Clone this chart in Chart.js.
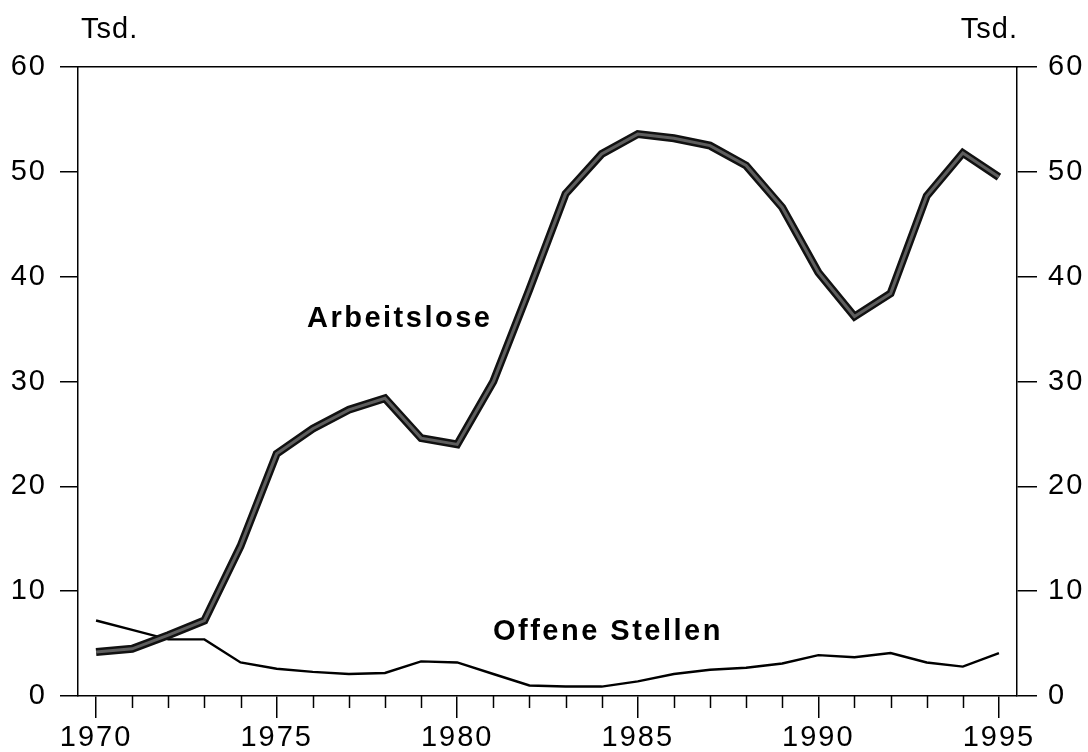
<!DOCTYPE html>
<html>
<head>
<meta charset="utf-8">
<script src="https://cdn.jsdelivr.net/npm/chart.js@4"></script>
<style>
html,body{margin:0;padding:0;background:#fff;}
#wrap{width:1088px;height:752px;position:relative;}
</style>
</head>
<body>
<div id="wrap"><canvas id="c" width="1088" height="752"></canvas></div>
<script>
const years = [1970,1971,1972,1973,1974,1975,1976,1977,1978,1979,1980,1981,1982,1983,1984,1985,1986,1987,1988,1989,1990,1991,1992,1993,1994,1995];
const arbeitslose = [4.2,4.5,5.8,7.2,14.3,23.1,25.5,27.3,28.4,24.6,24.0,30.0,38.8,47.9,51.7,53.6,53.2,52.5,50.6,46.6,40.4,36.2,38.4,47.7,51.8,49.5];
const offeneStellen = [7.2,6.3,5.4,5.4,3.2,2.6,2.3,2.1,2.2,3.3,3.2,2.1,1.0,0.9,0.9,1.4,2.1,2.5,2.7,3.1,3.9,3.7,4.1,3.2,2.8,4.1];
const xTickLabels = ['1970','1975','1980','1985','1990','1995'];
const yTickValues = [0,10,20,30,40,50,60];
const unitLabel = 'Tsd.';
const seriesNames = ['Arbeitslose','Offene Stellen'];

const FONT = "'Liberation Sans', Arial, Helvetica, sans-serif";
const toXY = arr => arr.map((v,i)=>({x:years[i], y:v}));

const decor = {
  id:'decor',
  beforeDraw(chart){ chart.ctx.letterSpacing = '2px'; },
  afterDraw(chart){
    const ctx = chart.ctx, x = chart.scales.x, y = chart.scales.y, ca = chart.chartArea;
    ctx.save();
    ctx.strokeStyle = '#000'; ctx.lineWidth = 1.5;
    // minor ticks for every year
    years.forEach(yr=>{
      if (xTickLabels.includes(String(yr))) return;
      const px = Math.round(x.getPixelForValue(yr))+0.5;
      ctx.beginPath(); ctx.moveTo(px, ca.bottom); ctx.lineTo(px, ca.bottom+12); ctx.stroke();
    });
    ctx.fillStyle = '#000';
    ctx.letterSpacing = '1px';
    ctx.font = '29px ' + FONT;
    ctx.textBaseline = 'alphabetic';
    ctx.textAlign = 'left';
    ctx.fillText(unitLabel, ca.left+3, 38);
    ctx.textAlign = 'right';
    ctx.fillText(unitLabel, ca.right+1, 38);
    ctx.letterSpacing = '2.5px';
    ctx.font = 'bold 29px ' + FONT;
    ctx.textAlign = 'left';
    ctx.textBaseline = 'middle';
    ctx.fillText(seriesNames[0], x.getPixelForValue(1975.84), y.getPixelForValue(36.0));
    ctx.fillText(seriesNames[1], x.getPixelForValue(1980.99), y.getPixelForValue(6.1));
    ctx.restore();
  }
};

const axisCommon = {
  border:{display:true,color:'#000',width:1.5},
  grid:{drawOnChartArea:false,color:'#000',lineWidth:1.5,tickLength:18},
};

new Chart(document.getElementById('c'), {
  type:'line',
  data:{
    datasets:[
      {label:seriesNames[0], data:toXY(arbeitslose), borderColor:'#111', borderWidth:8, pointRadius:0, borderJoinStyle:'miter', tension:0, order:1},
      {label:seriesNames[0]+' inner', data:toXY(arbeitslose), borderColor:'#5e5e5e', borderWidth:3, pointRadius:0, borderJoinStyle:'miter', tension:0, order:0},
      {label:seriesNames[1], data:toXY(offeneStellen), borderColor:'#000', borderWidth:2.4, pointRadius:0, borderJoinStyle:'miter', tension:0, order:2}
    ]
  },
  options:{
    responsive:false,
    animation:false,
    layout:{padding:{top:67,left:0,right:0,bottom:0}},
    plugins:{legend:{display:false},tooltip:{enabled:false}},
    scales:{
      x:{
        type:'linear', position:'bottom', min:1969.5, max:1995.5,
        border:{display:true,color:'#000',width:1.5},
        grid:{drawOnChartArea:false,color:'#000',lineWidth:1.5,tickLength:22},
        afterBuildTicks: s => { s.ticks = xTickLabels.map(t=>({value:Number(t)})); },
        ticks:{color:'#000',font:{family:FONT,size:29},padding:3,maxRotation:0,autoSkip:false,
          callback:(v)=>{ const i = xTickLabels.indexOf(String(v)); return i>=0 ? xTickLabels[i] : ''; }},
        afterFit: s => { s.height = 56; }
      },
      x2:{
        type:'linear', position:'top', min:1969.5, max:1995.5,
        border:{display:true,color:'#000',width:1.5},
        grid:{display:false},
        ticks:{display:false},
        afterFit: s => { s.height = 0; }
      },
      y:{
        ...axisCommon, position:'left', min:0, max:60,
        afterBuildTicks: s => { s.ticks = yTickValues.map(v=>({value:v})); },
        ticks:{color:'#000',font:{family:FONT,size:29},padding:13},
        afterFit: s => { s.width = 78; }
      },
      y2:{
        ...axisCommon, position:'right', min:0, max:60,
        grid:{drawOnChartArea:false,color:'#000',lineWidth:1.5,tickLength:20},
        afterBuildTicks: s => { s.ticks = yTickValues.map(v=>({value:v})); },
        ticks:{color:'#000',font:{family:FONT,size:29},padding:11},
        afterFit: s => { s.width = 71; }
      }
    }
  },
  plugins:[decor]
});
</script>
</body>
</html>
